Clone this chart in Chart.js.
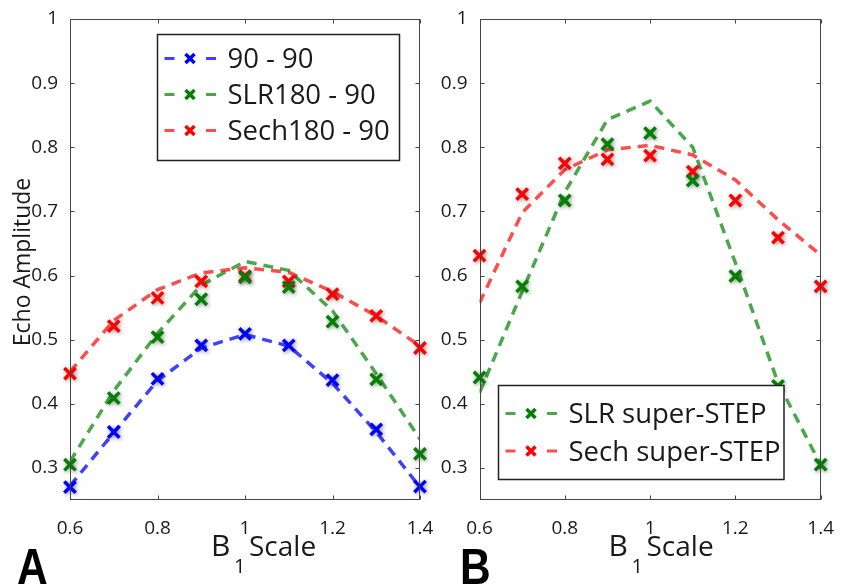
<!DOCTYPE html>
<html>
<head>
<meta charset="utf-8">
<script src="https://cdn.jsdelivr.net/npm/chart.js@4.4.1/dist/chart.umd.min.js"></script>
<style>
  body { margin: 0; background: #fff; }
  #wrap { position: relative; width: 843px; height: 585px; }
  #wrap canvas { position: absolute; left: 0; top: 0; }
</style>
</head>
<body>
<div id="wrap">
  <canvas id="chartA" width="843" height="585"></canvas>
  <canvas id="chartB" width="843" height="585"></canvas>
</div>
<script>
// B1 scale points (same for both panels)
const b1Scale = [0.6, 0.7, 0.8, 0.9, 1.0, 1.1, 1.2, 1.3, 1.4];
const xTicks = [0.6, 0.8, 1.0, 1.2, 1.4];
const yTicks = [0.3, 0.4, 0.5, 0.6, 0.7, 0.8, 0.9, 1.0];

// Panel A
const namesA = ["90 - 90", "SLR180 - 90", "Sech180 - 90"];
const sim9090 = [0.272, 0.355, 0.436, 0.487, 0.508, 0.49, 0.432, 0.356, 0.27];
const meas9090 = [0.270, 0.356, 0.439, 0.491, 0.509, 0.491, 0.437, 0.360, 0.271];
const simSlr180 = [0.31, 0.42, 0.51, 0.585, 0.622, 0.608, 0.545, 0.447, 0.345];
const measSlr180 = [0.305, 0.409, 0.504, 0.563, 0.597, 0.582, 0.528, 0.438, 0.322];
const simSech180 = [0.45, 0.53, 0.578, 0.604, 0.612, 0.605, 0.575, 0.537, 0.49];
const measSech180 = [0.447, 0.521, 0.565, 0.591, 0.599, 0.591, 0.571, 0.537, 0.487];

// Panel B
const namesB = ["SLR super-STEP", "Sech super-STEP"];
const simSlrStep = [0.417, 0.575, 0.73, 0.843, 0.872, 0.80, 0.62, 0.433, 0.305];
const measSlrStep = [0.441, 0.583, 0.717, 0.805, 0.822, 0.748, 0.599, 0.428, 0.305];
const simSechStep = [0.557, 0.698, 0.765, 0.796, 0.803, 0.788, 0.749, 0.687, 0.632];
const measSechStep = [0.631, 0.727, 0.775, 0.781, 0.787, 0.762, 0.717, 0.659, 0.583];

const blue = { line: "rgba(0,0,255,0.75)", mark: "#0000ff" };
const green = { line: "rgba(0,128,0,0.7)", mark: "#008000" };
const red = { line: "rgba(255,0,0,0.7)", mark: "#ff0000" };

const textColor = "#1a1a1a";
const axisColor = "#444";
const FONT = '"Open Sans", sans-serif';

Chart.defaults.font.family = FONT;

const toPoints = vals => vals.map((v, i) => ({ x: b1Scale[i], y: v }));
const fmt = v => String(parseFloat(Number(v).toFixed(2)));

function lineSet(vals, col) {
  return {
    data: toPoints(vals),
    showLine: true,
    borderColor: col.line,
    borderWidth: 3.5,
    borderDash: [10, 7],
    pointRadius: 0,
    tension: 0,
    order: 2,
  };
}

function markSet(vals, col) {
  return {
    data: toPoints(vals),
    showLine: false,
    pointStyle: "crossRot",
    pointRadius: 8,
    pointBorderWidth: 3.5,
    borderColor: col.mark,
    backgroundColor: col.mark,
    clip: false,
    shadow: true,
    order: 1,
  };
}

function drawCross(ctx, x, y, r) {
  ctx.beginPath();
  ctx.moveTo(x - r, y - r); ctx.lineTo(x + r, y + r);
  ctx.moveTo(x + r, y - r); ctx.lineTo(x - r, y + r);
  ctx.stroke();
}

// axes box, inward ticks, titles, panel letter, legend
function makeFrame(cfg) {
  return {
    id: "frame",
    beforeDatasetDraw(chart, args) {
      if (!chart.data.datasets[args.index].shadow) return;
      const ctx = chart.ctx;
      ctx.save();
      ctx.shadowColor = "rgba(0,0,0,0.45)";
      ctx.shadowBlur = 4;
      ctx.shadowOffsetX = 1;
      ctx.shadowOffsetY = 1;
    },
    afterDatasetDraw(chart, args) {
      if (chart.data.datasets[args.index].shadow) chart.ctx.restore();
    },
    afterDraw(chart) {
      const ctx = chart.ctx;
      const a = chart.chartArea;
      const sx = chart.scales.x, sy = chart.scales.y;
      const L = Math.round(a.left) + 0.5, R = Math.round(a.right) - 0.5;
      const T = Math.round(a.top) + 0.5, B = Math.round(a.bottom) - 0.5;

      ctx.save();
      ctx.strokeStyle = axisColor;
      ctx.lineWidth = 1;
      ctx.strokeRect(L, T, R - L, B - T);
      ctx.beginPath();
      xTicks.forEach(v => {
        const px = Math.round(sx.getPixelForValue(v)) + 0.5;
        ctx.moveTo(px, B); ctx.lineTo(px, B - 4);
        ctx.moveTo(px, T); ctx.lineTo(px, T + 4);
      });
      yTicks.forEach(v => {
        const py = Math.round(sy.getPixelForValue(v)) + 0.5;
        ctx.moveTo(L, py); ctx.lineTo(L + 4, py);
        ctx.moveTo(R, py); ctx.lineTo(R - 4, py);
      });
      ctx.stroke();

      ctx.fillStyle = textColor;

      // y title
      if (cfg.yTitle) {
        ctx.save();
        ctx.translate(29.5, 262);
        ctx.rotate(-Math.PI / 2);
        ctx.font = "23px " + FONT;
        ctx.textAlign = "center";
        ctx.textBaseline = "alphabetic";
        ctx.fillText(cfg.yTitle, 0, 0);
        ctx.restore();
      }

      // x title: B with subscript 1
      ctx.textAlign = "left";
      ctx.textBaseline = "alphabetic";
      ctx.font = "30px " + FONT;
      ctx.fillText("B", cfg.titleX, 556);
      ctx.font = "20px " + FONT;
      ctx.fillText("1", cfg.titleX + 23, 573);
      ctx.font = "28px " + FONT;
      ctx.fillText("Scale", cfg.titleX + 38, 556);

      // panel letter
      ctx.save();
      ctx.translate(cfg.letterX, 584);
      ctx.scale(0.85, 1);
      ctx.font = 'bold 50px "Liberation Sans", Arial, sans-serif';
      ctx.fillStyle = "#000";
      ctx.fillText(cfg.letter, 0, 0);
      ctx.restore();

      // legend
      const lg = cfg.legend;
      ctx.fillStyle = "#fff";
      ctx.fillRect(lg.x, lg.y, lg.w, lg.h);
      ctx.strokeStyle = "#222";
      ctx.lineWidth = 1.5;
      ctx.strokeRect(lg.x, lg.y, lg.w, lg.h);
      lg.names.forEach((name, i) => {
        const y = lg.y + lg.rows[i];
        const col = lg.colors[i];
        ctx.strokeStyle = col.line;
        ctx.lineWidth = 3;
        ctx.beginPath();
        ctx.moveTo(lg.x + 7, y); ctx.lineTo(lg.x + 17, y);
        ctx.moveTo(lg.x + 48.5, y); ctx.lineTo(lg.x + 58.5, y);
        ctx.stroke();
        ctx.strokeStyle = col.mark;
        ctx.lineWidth = 3.5;
        drawCross(ctx, lg.x + 32.5, y, 4.5);
        ctx.fillStyle = textColor;
        ctx.font = "27.5px " + FONT;
        ctx.textBaseline = "alphabetic";
        ctx.fillText(name, lg.x + 70, y + 9.5);
      });
      ctx.restore();
    },
  };
}

function makeOptions(padding) {
  return {
    responsive: false,
    animation: false,
    events: [],
    layout: { padding },
    plugins: { legend: { display: false }, tooltip: { enabled: false } },
    scales: {
      x: {
        type: "linear",
        min: 0.6,
        max: 1.4,
        afterBuildTicks: s => { s.ticks = xTicks.map(v => ({ value: v })); },
        afterFit: s => { s.height = 40; },
        grid: { display: false },
        border: { display: false },
        ticks: { autoSkip: false, maxRotation: 0, padding: 9, color: textColor, font: { size: 19 }, callback: v => fmt(v) },
      },
      y: {
        type: "linear",
        min: 0.25,
        max: 1,
        afterBuildTicks: s => { s.ticks = yTicks.map(v => ({ value: v })); },
        afterFit: s => { s.width = 40; },
        grid: { display: false },
        border: { display: false },
        ticks: { autoSkip: false, padding: 4, color: textColor, font: { size: 19 }, callback: v => fmt(v) },
      },
    },
  };
}

new Chart(document.getElementById("chartA"), {
  type: "scatter",
  data: {
    datasets: [
      lineSet(sim9090, blue),
      lineSet(simSlr180, green),
      lineSet(simSech180, red),
      markSet(meas9090, blue),
      markSet(measSlr180, green),
      markSet(measSech180, red),
    ],
  },
  options: makeOptions({ left: 30, right: 423, top: 19, bottom: 45 }),
  plugins: [makeFrame({
    yTitle: "Echo Amplitude",
    titleX: 211,
    letter: "A",
    letterX: 17,
    legend: { x: 157.5, y: 34.5, w: 242, h: 126, rows: [24, 60, 96], names: namesA, colors: [blue, green, red] },
  })],
});

new Chart(document.getElementById("chartB"), {
  type: "scatter",
  data: {
    datasets: [
      lineSet(simSlrStep, green),
      lineSet(simSechStep, red),
      markSet(measSlrStep, green),
      markSet(measSechStep, red),
    ],
  },
  options: makeOptions({ left: 439.5, right: 13.5, top: 19, bottom: 45 }),
  plugins: [makeFrame({
    yTitle: null,
    titleX: 608.5,
    letter: "B",
    letterX: 460,
    legend: { x: 498.5, y: 385.5, w: 285.5, h: 94, rows: [28, 65.5], names: namesB, colors: [green, red] },
  })],
});
</script>
</body>
</html>
